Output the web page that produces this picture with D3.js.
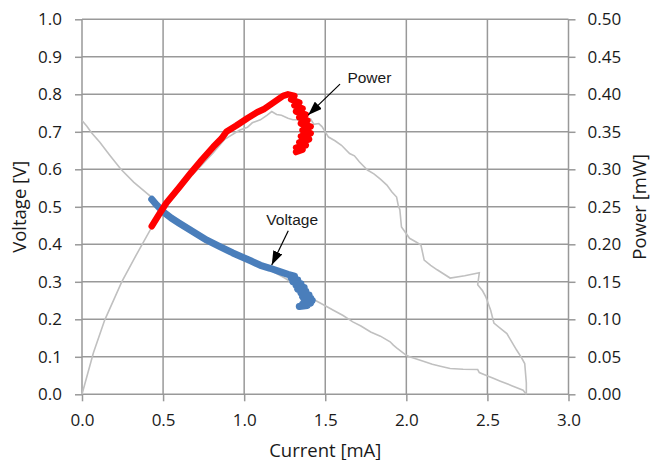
<!DOCTYPE html>
<html>
<head>
<meta charset="utf-8">
<script src="https://cdn.jsdelivr.net/npm/d3@7"></script>
<style>
  body { margin: 0; background: #fff; }
  svg { display: block; }
  .tick text { font-family: "Open Sans", sans-serif; font-size: 17px; fill: #1a1a1a; }
  .title { font-family: "Open Sans", sans-serif; font-size: 18.5px; fill: #1a1a1a; }
  .note { font-family: "Liberation Sans", Arial, sans-serif; font-size: 15.5px; fill: #1a1a1a; }
</style>
</head>
<body>
<svg id="chart"></svg>
<script>
// Dimensions (plot box edges)
var w = 652;
var h = 460;
var plotLeft = 82, plotRight = 568.5, plotTop = 19.3, plotBottom = 394.3;

// Ticks
var currentTicks = [0, 0.5, 1.0, 1.5, 2.0, 2.5, 3.0];
var voltageTicks = [0, 0.1, 0.2, 0.3, 0.4, 0.5, 0.6, 0.7, 0.8, 0.9, 1.0];
var powerTicks = [0, 0.05, 0.10, 0.15, 0.20, 0.25, 0.30, 0.35, 0.40, 0.45, 0.50];

// Grey reference I-V curve (left axis)
var ivCurrent = [0.00, 0.03, 0.06, 0.11, 0.17, 0.24, 0.32, 0.43, 0.50, 0.60, 0.77, 0.93, 1.04, 1.15, 1.25, 1.35, 1.44, 1.50, 1.55, 1.61, 1.67, 1.72, 1.78, 1.84, 1.90, 1.92, 1.94, 2.00, 2.02, 2.10, 2.16, 2.21, 2.27, 2.35, 2.44, 2.45, 2.49, 2.54, 2.58, 2.65, 2.72, 2.74];
var ivVoltage = [0.730, 0.715, 0.697, 0.672, 0.638, 0.600, 0.565, 0.525, 0.490, 0.458, 0.413, 0.378, 0.356, 0.334, 0.310, 0.282, 0.250, 0.236, 0.224, 0.210, 0.193, 0.182, 0.166, 0.155, 0.140, 0.131, 0.124, 0.104, 0.100, 0.089, 0.080, 0.075, 0.069, 0.067, 0.066, 0.058, 0.051, 0.042, 0.035, 0.023, 0.011, 0.000];

// Grey reference power curve (right axis, mW)
var pvCurrent = [0.00, 0.07, 0.14, 0.245, 0.34, 0.42, 0.52, 0.67, 0.81, 0.88, 0.97, 1.02, 1.05, 1.10, 1.14, 1.17, 1.20, 1.23, 1.27, 1.30, 1.33, 1.36, 1.39, 1.41, 1.43, 1.46, 1.48, 1.52, 1.56, 1.60, 1.65, 1.68, 1.71, 1.76, 1.80, 1.84, 1.88, 1.91, 1.94, 1.95, 1.96, 1.97, 2.02, 2.06, 2.09, 2.11, 2.15, 2.19, 2.27, 2.36, 2.45, 2.44, 2.47, 2.49, 2.52, 2.54, 2.58, 2.62, 2.65, 2.68, 2.71, 2.73, 2.74, 2.74];
var pvPower = [0.000, 0.055, 0.099, 0.150, 0.188, 0.219, 0.250, 0.290, 0.322, 0.340, 0.352, 0.356, 0.362, 0.366, 0.372, 0.377, 0.373, 0.372, 0.368, 0.366, 0.366, 0.362, 0.365, 0.367, 0.360, 0.361, 0.357, 0.343, 0.338, 0.332, 0.321, 0.318, 0.310, 0.299, 0.294, 0.287, 0.279, 0.270, 0.263, 0.252, 0.246, 0.223, 0.208, 0.203, 0.199, 0.179, 0.172, 0.166, 0.155, 0.158, 0.162, 0.146, 0.138, 0.130, 0.112, 0.095, 0.088, 0.081, 0.070, 0.059, 0.049, 0.041, 0.015, 0.000];

// Measured voltage (blue)
var measCurrentV = [0.43, 0.46, 0.50, 0.55, 0.60, 0.69, 0.77, 0.85, 0.93, 1.04, 1.10, 1.16, 1.22, 1.27, 1.31, 1.29, 1.33, 1.30, 1.35, 1.32, 1.37, 1.33, 1.38, 1.35, 1.40, 1.36, 1.41, 1.37, 1.42, 1.38, 1.41, 1.36, 1.39, 1.34];
var measVoltage = [0.520, 0.505, 0.487, 0.470, 0.456, 0.432, 0.411, 0.394, 0.377, 0.356, 0.344, 0.336, 0.327, 0.320, 0.315, 0.310, 0.305, 0.300, 0.295, 0.290, 0.285, 0.280, 0.275, 0.270, 0.265, 0.260, 0.256, 0.252, 0.250, 0.246, 0.243, 0.240, 0.237, 0.234];

// Measured power (red)
var measCurrentP = [0.43, 0.47, 0.52, 0.60, 0.67, 0.74, 0.81, 0.86, 0.89, 0.95, 1.02, 1.08, 1.12, 1.18, 1.24, 1.27, 1.31, 1.29, 1.34, 1.31, 1.36, 1.32, 1.38, 1.34, 1.39, 1.35, 1.41, 1.36, 1.41, 1.35, 1.40, 1.34, 1.38, 1.32, 1.36, 1.32];
var measPower = [0.224, 0.238, 0.255, 0.276, 0.295, 0.313, 0.330, 0.341, 0.350, 0.358, 0.368, 0.376, 0.380, 0.389, 0.398, 0.400, 0.398, 0.393, 0.389, 0.385, 0.381, 0.377, 0.373, 0.369, 0.365, 0.361, 0.357, 0.352, 0.348, 0.344, 0.340, 0.336, 0.332, 0.329, 0.326, 0.323];

// Annotations (in current / voltage units)
var noteLabels = ["Power", "Voltage"];
var noteTextI = [1.772, 1.296];
var noteTextV = [0.831, 0.451];
var noteTailI = [1.591, 1.272];
var noteTailV = [0.827, 0.436];
var noteTipI = [1.395, 1.170];
var noteTipV = [0.745, 0.345];

var svg = d3.select('#chart').attr('width', w).attr('height', h);

var x = d3.scaleLinear().domain([0, 3]).range([plotLeft, plotRight]);
var yV = d3.scaleLinear().domain([0, 1]).range([plotBottom, plotTop]);
var yP = d3.scaleLinear().domain([0, 0.5]).range([plotBottom, plotTop]);

var gridColor = '#999';

// grid lines
svg.append('g').selectAll('line').data(voltageTicks).enter().append('line')
    .attr('x1', plotLeft).attr('x2', plotRight)
    .attr('y1', function (d) { return yV(d); }).attr('y2', function (d) { return yV(d); })
    .style('stroke', gridColor).style('stroke-width', 1.5);
svg.append('g').selectAll('line').data(currentTicks).enter().append('line')
    .attr('x1', function (d) { return x(d); }).attr('x2', function (d) { return x(d); })
    .attr('y1', plotTop).attr('y2', plotBottom)
    .style('stroke', gridColor).style('stroke-width', 1.5);

// axes
function styleAxis(g) {
    g.select('.domain').remove();
    g.selectAll('.tick line').style('stroke', gridColor).style('stroke-width', 1.5);
}
svg.append('g').attr('transform', 'translate(' + plotLeft + ',0)')
    .call(d3.axisLeft(yV).tickValues(voltageTicks).tickFormat(d3.format('.1f')).tickSize(7).tickPadding(13))
    .call(styleAxis);
svg.append('g').attr('transform', 'translate(' + plotRight + ',0)')
    .call(d3.axisRight(yP).tickValues(powerTicks).tickFormat(d3.format('.2f')).tickSize(7).tickPadding(12))
    .call(styleAxis);
svg.append('g').attr('transform', 'translate(0,' + plotBottom + ')')
    .call(d3.axisBottom(x).tickValues(currentTicks).tickFormat(d3.format('.1f')).tickSize(7).tickPadding(13))
    .call(styleAxis);

// curves
var lineV = d3.line().x(function (d) { return x(d[0]); }).y(function (d) { return yV(d[1]); });
var lineP = d3.line().x(function (d) { return x(d[0]); }).y(function (d) { return yP(d[1]); });

svg.append('path').datum(d3.zip(ivCurrent, ivVoltage)).attr('d', lineV)
    .style('fill', 'none').style('stroke', '#c0c0c0').style('stroke-width', 1.6);
svg.append('path').datum(d3.zip(pvCurrent, pvPower)).attr('d', lineP)
    .style('fill', 'none').style('stroke', '#c0c0c0').style('stroke-width', 1.6);

svg.append('path').datum(d3.zip(measCurrentV, measVoltage)).attr('d', lineV)
    .style('fill', 'none').style('stroke', '#4a7ebb').style('stroke-width', 7)
    .style('stroke-linecap', 'round').style('stroke-linejoin', 'round');
svg.append('path').datum(d3.zip(measCurrentP, measPower)).attr('d', lineP)
    .style('fill', 'none').style('stroke', '#ff0000').style('stroke-width', 6.5)
    .style('stroke-linecap', 'round').style('stroke-linejoin', 'round');

// annotations
svg.append('defs').append('marker')
    .attr('id', 'arrow').attr('markerUnits', 'userSpaceOnUse')
    .attr('viewBox', '0 0 14 10').attr('refX', 14).attr('refY', 5)
    .attr('markerWidth', 14).attr('markerHeight', 10).attr('orient', 'auto')
    .append('path').attr('d', 'M0,0 L14,5 L0,10 Z').style('fill', '#000');

noteLabels.forEach(function (label, i) {
    svg.append('line')
        .attr('x1', x(noteTailI[i])).attr('y1', yV(noteTailV[i]))
        .attr('x2', x(noteTipI[i])).attr('y2', yV(noteTipV[i]))
        .style('stroke', '#000').style('stroke-width', 1.2)
        .attr('marker-end', 'url(#arrow)');
    svg.append('text').attr('class', 'note')
        .attr('x', x(noteTextI[i])).attr('y', yV(noteTextV[i]))
        .attr('text-anchor', 'middle').text(label);
});

// axis titles
svg.append('text').attr('class', 'title')
    .attr('x', (plotLeft + plotRight) / 2).attr('y', 456.5)
    .attr('text-anchor', 'middle').text('Current [mA]');
svg.append('text').attr('class', 'title')
    .attr('transform', 'translate(26,' + (plotTop + plotBottom) / 2 + ')rotate(-90)')
    .attr('text-anchor', 'middle').text('Voltage [V]');
svg.append('text').attr('class', 'title')
    .attr('transform', 'translate(646,' + (plotTop + plotBottom) / 2 + ')rotate(-90)')
    .attr('text-anchor', 'middle').text('Power [mW]');
</script>
</body>
</html>
